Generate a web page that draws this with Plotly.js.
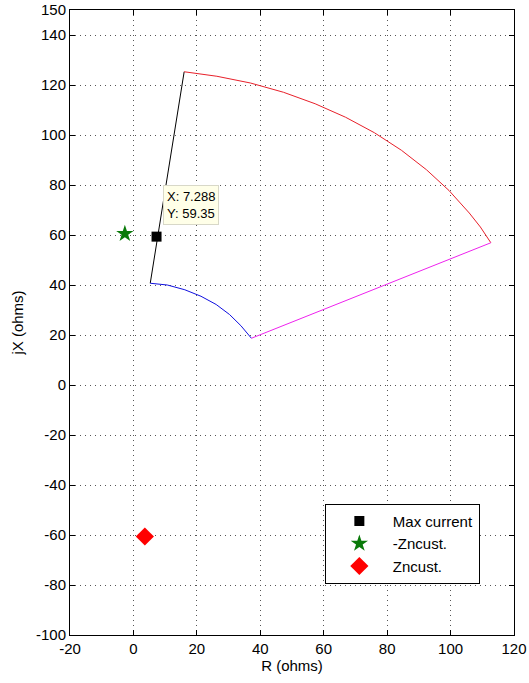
<!DOCTYPE html>
<html><head><meta charset="utf-8">
<script src="https://cdn.plot.ly/plotly-3.0.1.min.js"></script>
<style>html,body{margin:0;padding:0;background:#fff}#chart{width:529px;height:683px}</style>
</head><body><div id="chart"></div>
<script>
// Black radial segment (inner -> outer)
const blackR = [5.3, 16.0];
const blackX = [40.7, 125.3];
// Red outer arc
const redR = [16.0, 26.3, 36.9, 47.3, 57.3, 66.9, 76.0, 84.5, 92.4, 99.5, 105.9, 109.4, 112.7];
const redX = [125.3, 123.5, 120.8, 117.1, 112.5, 107.1, 100.9, 93.9, 86.1, 77.8, 68.8, 63.2, 56.9];
// Blue inner arc
const blueR = [5.3, 10.7, 16.2, 21.3, 26.1, 30.3, 33.9, 37.2];
const blueX = [40.7, 40.0, 38.1, 35.5, 32.2, 28.2, 23.7, 18.7];
// Magenta radial segment
const magR = [37.2, 112.7];
const magX = [18.7, 56.9];
// Markers
const maxCurR = [7.288], maxCurX = [59.35];
const negZR = [-2.7], negZX = [60.5];
const zR = [3.6], zX = [-60.6];
const xTicks = [-20, 0, 20, 40, 60, 80, 100, 120];
const yTicks = [-100, -80, -60, -40, -20, 0, 20, 40, 60, 80, 100, 120, 140, 150];

const FONT = 'Liberation Sans, Arial, sans-serif';
const traces = [
  {x: blackR, y: blackX, mode: 'lines', line: {color: '#000', width: 1}, showlegend: false, hoverinfo: 'skip'},
  {x: redR, y: redX, mode: 'lines', line: {color: '#e8202a', width: 1}, showlegend: false, hoverinfo: 'skip'},
  {x: blueR, y: blueX, mode: 'lines', line: {color: '#1010e0', width: 1}, showlegend: false, hoverinfo: 'skip'},
  {x: magR, y: magX, mode: 'lines', line: {color: '#ee22ee', width: 1}, showlegend: false, hoverinfo: 'skip'},
  {x: maxCurR, y: maxCurX, mode: 'markers', name: 'Max current', marker: {symbol: 'square', color: '#000', size: 10}},
  {x: negZR, y: negZX, mode: 'markers', name: '-Zncust.', marker: {symbol: 'star', color: '#0a7a0a', size: 13}},
  {x: zR, y: zX, mode: 'markers', name: 'Zncust.', marker: {symbol: 'diamond', color: '#ff0000', size: 14}}
];
const axisCommon = {
  showline: true, linecolor: '#000', linewidth: 1, mirror: 'allticks',
  ticks: 'inside', ticklen: 5, tickcolor: '#000',
  showgrid: true, gridcolor: '#555', griddash: '1px,4px', gridwidth: 1,
  zeroline: false, tickfont: {family: FONT, size: 15, color: '#000'}
};
const layout = {
  width: 529, height: 683,
  margin: {l: 70, r: 15, t: 10, b: 48},
  paper_bgcolor: '#fff', plot_bgcolor: '#fff',
  xaxis: Object.assign({}, axisCommon, {range: [-20, 120], tickvals: xTicks, ticktext: xTicks.map(String),
    title: {text: 'R (ohms)', font: {family: FONT, size: 15, color: '#000'}, standoff: 2}}),
  yaxis: Object.assign({}, axisCommon, {range: [-100, 150], tickvals: yTicks, ticktext: yTicks.map(String),
    title: {text: 'jX (ohms)', font: {family: FONT, size: 15, color: '#000'}, standoff: 8}}),
  legend: {x: 0.574, y: 0.21, xanchor: 'left', yanchor: 'top', bgcolor: '#fff', bordercolor: '#000', borderwidth: 1,
    font: {family: FONT, size: 15, color: '#000'}, tracegroupgap: 0, itemwidth: 57},
  annotations: [{x: maxCurR[0], y: maxCurX[0], xref: 'x', yref: 'y', showarrow: false,
    text: 'X: ' + maxCurR[0] + '<br>Y: ' + maxCurX[0], align: 'left', xanchor: 'left', yanchor: 'bottom',
    xshift: 6, yshift: 12, bgcolor: '#ffffe8', bordercolor: '#d8d8c8', borderwidth: 1, borderpad: 3,
    font: {family: FONT, size: 13, color: '#000'}}],
  showlegend: true
};
Plotly.newPlot('chart', traces, layout, {displayModeBar: false, staticPlot: true});
</script></body></html>
